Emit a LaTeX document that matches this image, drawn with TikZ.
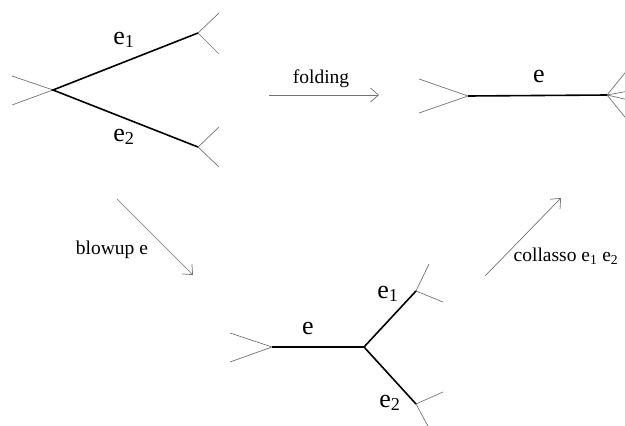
\documentclass[tikz,border=0pt]{standalone}
\usepackage{fontspec}
\setmainfont{Liberation Serif}
\usetikzlibrary{arrows.meta}
\begin{document}
\begin{tikzpicture}[x=1pt,y=-1pt,
  edge/.style={line width=1.6pt,black},
  whisker/.style={line width=0.7pt,black!55},
  maparrow/.style={line width=0.7pt,black!55,-{Straight Barb[length=8pt,width=14pt,line width=0.7pt]}},
  elabel/.style={font=\fontsize{26}{28}\selectfont,inner sep=0pt},
  caption/.style={font=\fontsize{19.5}{21}\selectfont,inner sep=0pt}]
\useasboundingbox (0,0) rectangle (625,426);
% ---------- top-left graph ----------
\coordinate (A) at (53,90);
\coordinate (B1) at (198,33);
\coordinate (B2) at (198,147);
\coordinate (Aw1) at (12,76);
\coordinate (Aw2) at (12,105);
\coordinate (B1w1) at (219,13);
\coordinate (B1w2) at (219,54);
\coordinate (B2w1) at (219,127);
\coordinate (B2w2) at (219,167);
\draw[whisker] (Aw1) -- (A) -- (Aw2);
\draw[whisker] (B1w1) -- (B1) -- (B1w2);
\draw[whisker] (B2w1) -- (B2) -- (B2w2);
\draw[edge] (B1) -- (A) -- (B2);
\node[elabel] (le1) at (124,40) {e\textsubscript{1}};
\node[elabel] (le2) at (124,137) {e\textsubscript{2}};
% ---------- top-right graph ----------
\coordinate (C) at (468,96);
\coordinate (D) at (607,95);
\coordinate (Cw1) at (419,79);
\coordinate (Cw2) at (419,113);
\coordinate (Dw1) at (629,68);
\coordinate (Dw2) at (629,91);
\coordinate (Dw3) at (629,100);
\coordinate (Dw4) at (629,122);
\draw[whisker] (Cw1) -- (C) -- (Cw2);
\draw[whisker] (D) -- (Dw1) (D) -- (Dw2) (D) -- (Dw3) (D) -- (Dw4);
\draw[edge] (C) -- (D);
\node[elabel] (le) at (539,76) {e};
% ---------- bottom graph ----------
\coordinate (E) at (272,347);
\coordinate (M) at (364,347);
\coordinate (F1) at (416,291);
\coordinate (F2) at (416,404);
\coordinate (Ew1) at (230,333);
\coordinate (Ew2) at (230,362);
\coordinate (F1w1) at (429,264);
\coordinate (F1w2) at (443,302);
\coordinate (F2w1) at (443,392);
\coordinate (F2w2) at (429,428);
\draw[whisker] (Ew1) -- (E) -- (Ew2);
\draw[whisker] (F1w1) -- (F1) -- (F1w2);
\draw[whisker] (F2w1) -- (F2) -- (F2w2);
\draw[edge] (E) -- (M) -- (F1) (M) -- (F2);
\node[elabel] (be) at (308,328) {e};
\node[elabel] (be1) at (388,294) {e\textsubscript{1}};
\node[elabel] (be2) at (390,403) {e\textsubscript{2}};
% ---------- arrows ----------
\coordinate (fs) at (269,95);
\coordinate (fe) at (379,95);
\draw[maparrow] (fs) -- (fe);
\node[caption] (lfold) at (321,79) {folding};
\coordinate (bs) at (117,199);
\coordinate (bt) at (193,275);
\draw[maparrow] (bs) -- (bt);
\node[caption] (lblow) at (112,250) {blowup e};
\coordinate (cs) at (485,276);
\coordinate (ce) at (561,198);
\draw[maparrow] (cs) -- (ce);
\node[caption] (lcoll) at (566,256) {collasso e\textsubscript{1} e\textsubscript{2}};
\end{tikzpicture}
\end{document}
